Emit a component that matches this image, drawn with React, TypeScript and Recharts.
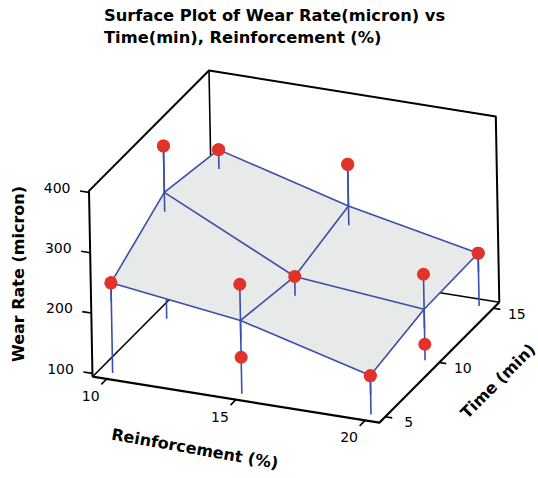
import React from 'react';
import { ScatterChart, Scatter, XAxis, YAxis } from 'recharts';

// ---------------- data ----------------
const reinforcement = [10, 15, 20];
const time = [5, 10, 15];
// fitted surface (wear rate, micron); one array per reinforcement level, indexed by time
const surfaceR10 = [244, 304, 285];
const surfaceR15 = [216, 199, 226];
const surfaceR20 = [159, 179, 182];
// observed points
const pointR = [10, 15, 15, 20, 10, 10, 15, 20, 20, 10, 15, 15, 20];
const pointT = [5, 5, 5, 5, 10, 10, 10, 10, 10, 15, 15, 15, 15];
const pointWear = [244, 276, 155, 159, 381, 227, 199, 237, 121, 285, 295, 158, 182];
// ticks
const zTicks = [100, 200, 300, 400];
const rTicks = [10, 15, 20];
const tTicks = [5, 10, 15];

const titleLines = ['Surface Plot of Wear Rate(micron) vs', 'Time(min), Reinforcement (%)'];
const zTitle = 'Wear Rate (micron)';
const rTitle = 'Reinforcement (%)';
const tTitle = 'Time (min)';

// ---------------- 3D view (axis ranges + oblique projection) ----------------
const W = 538;
const H = 478;
const R_DOM = [9.45, 20.55];
const T_DOM = [4.45, 15.55];
const Z_DOM = [94.5, 402.5];
const ORIGIN = { x: 92.5, y: 376.7 };
const VR = { x: 286.8, y: 46 };
const VT = { x: 120, y: -120.4 };
const VZ = { x: -3.5, y: -185.8 };
const STEM_OVERHANG = 32;

const surfaceRows = [surfaceR10, surfaceR15, surfaceR20];

function proj(r: number, t: number, z: number) {
  const ur = (r - R_DOM[0]) / (R_DOM[1] - R_DOM[0]);
  const ut = (t - T_DOM[0]) / (T_DOM[1] - T_DOM[0]);
  const uz = (z - Z_DOM[0]) / (Z_DOM[1] - Z_DOM[0]);
  return {
    x: ORIGIN.x + ur * VR.x + ut * VT.x + uz * VZ.x,
    y: ORIGIN.y + ur * VR.y + ut * VT.y + uz * VZ.y,
  };
}

const surfAt = (r: number, t: number) =>
  surfaceRows[reinforcement.indexOf(r)][time.indexOf(t)];

// ---------------- colours ----------------
const RED = '#e1332a';
const BLUE = '#3a4eaa';
const GRAY = '#e8e9e9';
const BLACK = '#000000';
const FONT = '"DejaVu Sans", Verdana, sans-serif';

// ---------------- helpers that draw through Scatter ----------------
const noShape = () => <g />;

function pathOf(pts: any[], closed: boolean) {
  return (
    pts.map((p, i) => `${i ? 'L' : 'M'}${p.x},${p.y}`).join(' ') + (closed ? ' Z' : '')
  );
}

function polyline(key: string, pts: any[], stroke: string, width: number, fill = 'none', closed = false) {
  return (
    <Scatter
      key={key}
      data={pts}
      isAnimationActive={false}
      shape={noShape}
      line={(lp: any) => (
        <path
          d={pathOf(lp.points, closed)}
          fill={fill}
          stroke={stroke}
          strokeWidth={width}
          strokeLinejoin="round"
        />
      )}
    />
  );
}

function segments(key: string, pts: any[], stroke: string, width: number) {
  return (
    <Scatter
      key={key}
      data={pts}
      isAnimationActive={false}
      shape={noShape}
      line={(lp: any) => {
        const p = lp.points;
        let d = '';
        for (let i = 0; i + 1 < p.length; i += 2) d += `M${p[i].x},${p[i].y} L${p[i + 1].x},${p[i + 1].y} `;
        return <path d={d} fill="none" stroke={stroke} strokeWidth={width} />;
      }}
    />
  );
}

// ---------------- derived geometry ----------------
const [R0, R1] = R_DOM;
const [T0, T1] = T_DOM;
const [Z0, Z1] = Z_DOM;
const cA = proj(R0, T0, Z0);
const cB = proj(R1, T0, Z0);
const cC = proj(R1, T1, Z0);
const cD = proj(R0, T1, Z0);
const cE = proj(R0, T0, Z1);
const cF = proj(R0, T1, Z1);
const cG = proj(R1, T1, Z1);

const points = pointR.map((r, i) => ({ r, t: pointT[i], z: pointWear[i] }));

const stemPts: any[] = [];
points.forEach((p) => {
  stemPts.push(proj(p.r, p.t, p.z));
  stemPts.push(proj(p.r, p.t, Z0));
});
const allDots = points.map((p) => proj(p.r, p.t, p.z));

const upper = points.filter((p) => p.z >= surfAt(p.r, p.t) - 5);
const upperStemPts: any[] = [];
upper.forEach((p) => {
  upperStemPts.push(proj(p.r, p.t, p.z));
  upperStemPts.push(proj(p.r, p.t, surfAt(p.r, p.t) - STEM_OVERHANG));
});
const upperDots = upper.map((p) => proj(p.r, p.t, p.z));

const quads: any[][] = [];
for (let i = 0; i < reinforcement.length - 1; i++) {
  for (let j = 0; j < time.length - 1; j++) {
    const r0 = reinforcement[i], r1 = reinforcement[i + 1];
    const t0 = time[j], t1 = time[j + 1];
    quads.push([
      proj(r0, t0, surfAt(r0, t0)),
      proj(r1, t0, surfAt(r1, t0)),
      proj(r1, t1, surfAt(r1, t1)),
      proj(r0, t1, surfAt(r0, t1)),
    ]);
  }
}
const gridRows = reinforcement.map((r) => time.map((t) => proj(r, t, surfAt(r, t))));
const gridCols = time.map((t) => reinforcement.map((r) => proj(r, t, surfAt(r, t))));

const zTickPts: any[] = [];
zTicks.forEach((z) => {
  zTickPts.push(proj(R0, T0, z));
  zTickPts.push(proj(R0 - 0.35, T0, z));
});
const rTickPts: any[] = [];
rTicks.forEach((r) => {
  rTickPts.push(proj(r, T0, Z0));
  rTickPts.push(proj(r, T0 - 0.5, Z0));
});
const tTickPts: any[] = [];
tTicks.forEach((t) => {
  tTickPts.push(proj(R1, t, Z0));
  tTickPts.push(proj(R1 + 0.27, t, Z0));
});

const zLabelData = zTicks.map((z) => ({ ...proj(R0, T0, z), label: String(z) }));
const rLabelData = rTicks.map((r) => ({ ...proj(r, T0, Z0), label: String(r) }));
const tLabelData = tTicks.map((t) => ({ ...proj(R1, t, Z0), label: String(t) }));

const zTitleData = [{ ...proj(R0, T0, (Z0 + Z1) / 2), label: zTitle }];
const rTitleData = [{ ...proj((reinforcement[0] + reinforcement[2]) / 2, T0, Z0), label: rTitle }];
const tTitleData = [{ ...proj(R1, (time[0] + time[2]) / 2, Z0), label: tTitle }];

function labels(key: string, data: any[], dx: number, dy: number, anchor: string, size: number, bold: boolean, rotate = 0) {
  return (
    <Scatter
      key={key}
      data={data}
      isAnimationActive={false}
      shape={(p: any) => {
        const x = p.cx + dx;
        const y = p.cy + dy;
        return (
          <text
            x={x}
            y={y}
            textAnchor={anchor}
            dominantBaseline="central"
            fontFamily={FONT}
            fontSize={size}
            fontWeight={bold ? 'bold' : 'normal'}
            fill={BLACK}
            transform={rotate ? `rotate(${rotate}, ${x}, ${y})` : undefined}
          >
            {p.payload.label}
          </text>
        );
      }}
    />
  );
}

function dots(key: string, data: any[]) {
  return (
    <Scatter
      key={key}
      data={data}
      isAnimationActive={false}
      shape={(p: any) => <circle cx={p.cx} cy={p.cy} r={6.5} fill={RED} />}
    />
  );
}

export default function App() {
  return (
    <div style={{ position: 'absolute', left: 0, top: 0, width: W, height: H, background: '#fff' }}>
      <ScatterChart width={W} height={H} margin={{ top: 0, right: 0, bottom: 0, left: 0 }}>
        <XAxis type="number" dataKey="x" domain={[0, W]} hide allowDataOverflow />
        <YAxis type="number" dataKey="y" domain={[0, H]} reversed hide allowDataOverflow />

        {/* hidden-side box edges */}
        {segments('backbox', [cA, cD, cD, cC, cD, cF], BLACK, 1.6)}

        {/* full drop lines and all points (partly hidden by the surface) */}
        {segments('stems', stemPts, BLUE, 1.6)}
        {dots('alldots', allDots)}

        {/* surface */}
        {quads.map((q, i) => polyline(`quad${i}`, q, GRAY, 0.8, GRAY, true))}
        {gridRows.map((g, i) => polyline(`row${i}`, g, BLUE, 1.6))}
        {gridCols.map((g, i) => polyline(`col${i}`, g, BLUE, 1.6))}

        {/* visible upper parts of drop lines and points */}
        {segments('upperstems', upperStemPts, BLUE, 1.6)}
        {dots('upperdots', upperDots)}

        {/* front box edges */}
        {polyline('frontbottom', [cA, cB, cC], BLACK, 2.2)}
        {polyline('leftvert', [cA, cE, cF, cG, cC], BLACK, 2)}

        {/* ticks */}
        {segments('zticks', zTickPts, BLACK, 1.6)}
        {segments('rticks', rTickPts, BLACK, 1.6)}
        {segments('tticks', tTickPts, BLACK, 1.6)}

        {labels('zlabels', zLabelData, -18.5, -4.6, 'end', 14, false)}
        {labels('rlabels', rLabelData, -16, 17, 'middle', 14, false)}
        {labels('tlabels', tLabelData, 23.5, 5.5, 'middle', 14, false)}

        {labels('ztitle', zTitleData, -71.8, -9.8, 'middle', 16, true, -90)}
        {labels('rtitle', rTitleData, -41, 49, 'middle', 16, true, 10)}
        {labels('ttitle', tTitleData, 58.7, 18.5, 'middle', 16, true, -45)}
      </ScatterChart>
      <svg
        width={W}
        height={60}
        style={{ position: 'absolute', left: 0, top: 0, pointerEvents: 'none' }}
      >
        {titleLines.map((line, i) => (
          <text key={i} x={104} y={21 + i * 21.5} fontFamily={FONT} fontSize={16.3} fontWeight="bold" fill={BLACK}>
            {line}
          </text>
        ))}
      </svg>
    </div>
  );
}
